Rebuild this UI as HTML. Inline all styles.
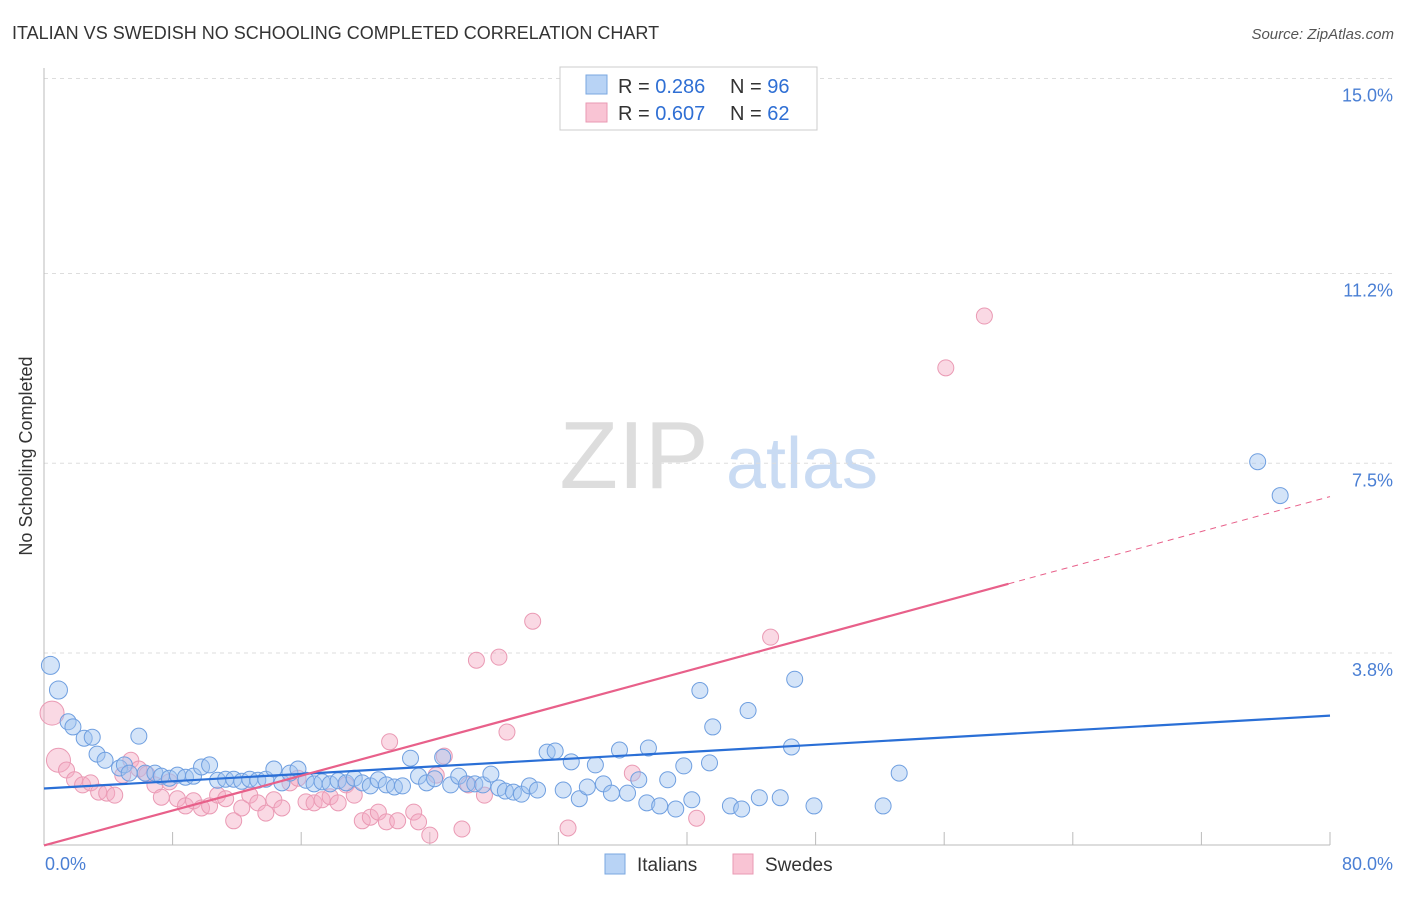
<!DOCTYPE html>
<html><head><meta charset="utf-8"><style>
body{margin:0;background:#fff;font-family:"Liberation Sans",sans-serif}
svg text{font-family:"Liberation Sans",sans-serif}
</style></head><body>
<svg id="chart" width="1406" height="892" viewBox="0 0 1406 892">
<text x="12" y="39" font-size="18" fill="#333">ITALIAN VS SWEDISH NO SCHOOLING COMPLETED CORRELATION CHART</text>
<text x="1394" y="39" font-size="15" fill="#555" font-style="italic" text-anchor="end">Source: ZipAtlas.com</text>
<text x="32" y="456" font-size="18" fill="#333" transform="rotate(-90 32 456)" text-anchor="middle">No Schooling Completed</text>
<text x="634" y="488" font-size="96" fill="#ddd" font-family="Liberation Serif" text-anchor="middle">ZIP</text>
<text x="802" y="488" font-size="72" fill="#c9dbf3" text-anchor="middle">atlas</text>
<g id="grid"></g><g id="axes"></g><g id="pts"></g><g id="trend"></g>
<g>
<rect x="560" y="67" width="257" height="63" fill="#fff" stroke="#ccc"/>
<rect x="586" y="75" width="21" height="19" fill="#b8d3f5" stroke="#7aa7e0"/>
<rect x="586" y="103" width="21" height="19" fill="#f9c4d4" stroke="#e99ab3"/>
<text x="618" y="93" font-size="20" fill="#333">R = <tspan fill="#2f6fd4">0.286</tspan></text>
<text x="730" y="93" font-size="20" fill="#333">N = <tspan fill="#2f6fd4">96</tspan></text>
<text x="618" y="120" font-size="20" fill="#333">R = <tspan fill="#2f6fd4">0.607</tspan></text>
<text x="730" y="120" font-size="20" fill="#333">N = <tspan fill="#2f6fd4">62</tspan></text>
</g>
<g>
<rect x="605" y="854" width="20" height="20" fill="#b8d3f5" stroke="#7aa7e0"/>
<text x="637" y="871" font-size="19" fill="#333">Italians</text>
<rect x="733" y="854" width="20" height="20" fill="#f9c4d4" stroke="#e99ab3"/>
<text x="765" y="871" font-size="19" fill="#333">Swedes</text>
</g>
</svg>
<script>
const yTicks=[3.8,7.5,11.2,15.0];
const yTickLabels=["3.8%","7.5%","11.2%","15.0%"];
const xTickLabels=["0.0%","80.0%"];
const italiansX=[0.4,0.9,1.5,1.8,2.5,3.0,3.3,3.8,4.7,5.0,5.3,5.9,6.3,6.9,7.3,7.8,8.3,8.8,9.3,9.8,10.3,10.8,11.3,11.8,12.3,12.8,13.3,13.8,14.3,14.8,15.3,15.8,16.3,16.8,17.3,17.8,18.3,18.8,19.3,19.8,20.3,20.8,21.3,21.8,22.3,22.8,23.3,23.8,24.3,24.8,25.3,25.8,26.3,26.8,27.3,27.8,28.3,28.7,29.2,29.7,30.2,30.7,31.3,31.8,32.3,32.8,33.3,33.8,34.3,34.8,35.3,35.8,36.3,37.0,37.6,37.5,38.3,38.8,39.3,39.8,40.3,40.8,41.4,41.6,42.7,43.4,43.8,44.5,45.8,46.5,46.7,47.9,52.2,53.2,75.5,76.9];
const italiansY=[3.56,3.08,2.46,2.36,2.14,2.16,1.83,1.71,1.56,1.62,1.46,2.18,1.46,1.46,1.40,1.36,1.42,1.38,1.40,1.58,1.62,1.32,1.34,1.34,1.30,1.34,1.32,1.34,1.54,1.27,1.46,1.54,1.32,1.25,1.29,1.25,1.31,1.27,1.36,1.27,1.21,1.33,1.23,1.19,1.21,1.75,1.40,1.27,1.35,1.77,1.23,1.40,1.25,1.25,1.23,1.44,1.17,1.11,1.09,1.05,1.21,1.13,1.87,1.89,1.13,1.68,0.96,1.19,1.62,1.25,1.07,1.91,1.07,1.33,1.95,0.88,0.82,1.33,0.76,1.60,0.94,3.07,1.66,2.36,0.82,0.76,2.68,0.98,0.98,1.97,3.29,0.82,0.82,1.46,7.53,6.87];
const swedesX=[0.5,0.9,1.4,1.9,2.4,2.9,3.4,3.9,4.4,4.9,5.4,5.9,6.4,6.9,7.3,7.8,8.3,8.8,9.3,9.8,10.3,10.8,11.3,11.8,12.3,12.8,13.3,13.8,14.3,14.8,15.3,15.8,16.3,16.8,17.3,17.8,18.3,18.8,19.3,19.8,20.3,20.8,21.3,21.5,22.0,23.0,23.3,24.0,24.4,24.9,26.0,26.4,26.9,27.4,28.3,28.8,30.4,32.6,36.6,40.6,45.2,56.1,58.5];
const swedesY=[2.63,1.71,1.52,1.33,1.23,1.27,1.09,1.07,1.03,1.42,1.71,1.54,1.44,1.23,0.99,1.29,0.96,0.82,0.92,0.78,0.82,1.03,0.96,0.53,0.78,1.03,0.88,0.68,0.94,0.78,1.27,1.36,0.90,0.88,0.94,1.00,0.88,1.23,1.03,0.53,0.60,0.70,0.51,2.07,0.53,0.70,0.51,0.25,1.42,1.79,0.37,1.23,3.66,1.03,3.72,2.26,4.42,0.39,1.46,0.58,4.11,9.36,10.37];
const blueLine=[1.16,2.58];
const pinkLine=[0.05,6.85];
const NS='http://www.w3.org/2000/svg';
const X0=44,X1=1330,Y0=848,YPER=51.3;
const sx=v=>X0+(v/80)*(X1-X0);
const sy=v=>Y0-v*YPER;
function mk(tag,attrs,parent){const e=document.createElementNS(NS,tag);for(const k in attrs)e.setAttribute(k,attrs[k]);parent.appendChild(e);return e;}
const grid=document.getElementById('grid'),axes=document.getElementById('axes'),pts=document.getElementById('pts'),tr=document.getElementById('trend');
yTicks.forEach((t,i)=>{
 const l=mk('line',{x1:X0,x2:1394,y1:sy(t),y2:sy(t),stroke:'#ddd','stroke-dasharray':'4,4'},grid);
 
 
 const tx=mk('text',{x:1393,y:sy(t)+23,'font-size':18,fill:'#4a7fd4','text-anchor':'end'},axes);
 tx.textContent=yTickLabels[i];
 
 
});
const ya=mk('line',{x1:X0,x2:X0,y1:68,y2:845,stroke:'#bbb'},axes);


const xa=mk('line',{x1:X0,x2:X1,y1:845,y2:845,stroke:'#bbb'},axes);


for(let i=0;i<=10;i++){
 const tk=mk('line',{x1:sx(i*8),x2:sx(i*8),y1:832,y2:845,stroke:'#bbb'},axes);
 
 
}
const xl0=mk('text',{x:45,y:870,'font-size':18,fill:'#4a7fd4'},axes);xl0.textContent=xTickLabels[0];


const xl1=mk('text',{x:1393,y:870,'font-size':18,fill:'#4a7fd4','text-anchor':'end'},axes);xl1.textContent=xTickLabels[1];


swedesX.forEach((x,i)=>{
 const r=i<2?12:8;
 const c=mk('circle',{cx:sx(x),cy:sy(swedesY[i]),r:r,fill:'rgba(245,170,195,0.45)',stroke:'#ea9ab4','stroke-width':1},pts);
 
 
});
italiansX.forEach((x,i)=>{
 const r=i<2?9:8;
 const c=mk('circle',{cx:sx(x),cy:sy(italiansY[i]),r:r,fill:'rgba(160,195,240,0.45)',stroke:'#6f9fe0','stroke-width':1},pts);
 
 
});
const bl=mk('line',{x1:sx(0),y1:sy(blueLine[0]),x2:sx(80),y2:sy(blueLine[1]),stroke:'#2a6fd6','stroke-width':2.2},tr);


const pf=v=>pinkLine[0]+(pinkLine[1]-pinkLine[0])*v/80;
const pl=mk('line',{x1:sx(0),y1:sy(pf(0)),x2:sx(60),y2:sy(pf(60)),stroke:'#e8608a','stroke-width':2.2},tr);


const pd=mk('line',{x1:sx(60),y1:sy(pf(60)),x2:sx(80),y2:sy(pf(80)),stroke:'#e8608a','stroke-width':1,'stroke-dasharray':'6,5'},tr);


</script>
</body></html>
